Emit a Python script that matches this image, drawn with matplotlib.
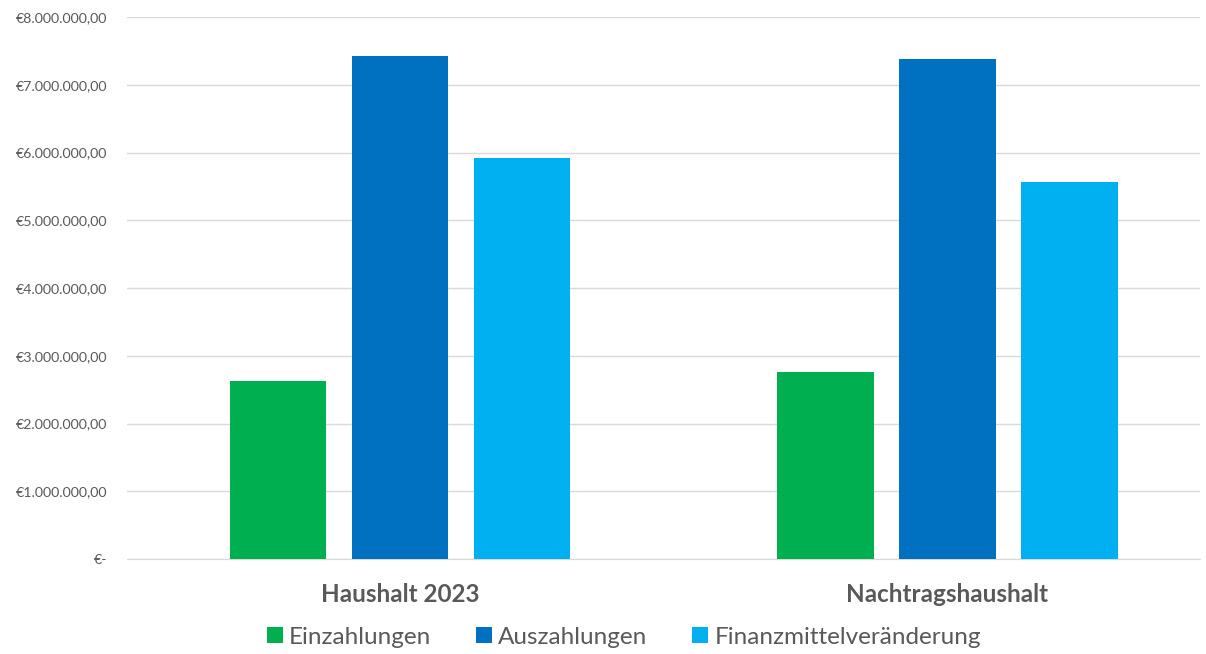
import matplotlib
matplotlib.use("Agg")
import matplotlib.pyplot as plt
import numpy as np
from matplotlib.ticker import FuncFormatter

gruppen = ["Haushalt 2023", "Nachtragshaushalt"]
serien = ["Einzahlungen", "Auszahlungen", "Finanzmittelveränderung"]
einzahlungen = [2630000, 2760000]
auszahlungen = [7420000, 7380000]
finanzmittel = [5920000, 5565000]
farben = ["#00b050", "#0070c0", "#00b0f0"]

plt.rcParams['font.family'] = ['Lato', 'DejaVu Sans']


def euro(v, pos):
    if v == 0:
        return "€-"
    s = f"{v:,.2f}"  # 8,000,000.00
    s = s.replace(",", "X").replace(".", ",").replace("X", ".")
    return "€" + s


fig = plt.figure(figsize=(12.06, 6.54), dpi=100)
ax = fig.add_axes([127 / 1206, 1 - 559 / 654, (1200 - 127) / 1206, (559 - 17) / 654])

x = np.arange(len(gruppen))
breite = 0.177
abstand = 0.223
for i, (werte, name) in enumerate(zip([einzahlungen, auszahlungen, finanzmittel], serien)):
    ax.bar(x + (i - 1) * abstand, werte, width=breite, color=farben[i], label=name, zorder=3)

ax.set_ylim(0, 8000000)
ax.set_xlim(-0.499, 1.462)
ax.set_yticks(np.arange(0, 8000001, 1000000))
ax.yaxis.set_major_formatter(FuncFormatter(euro))
ax.grid(axis="y", color="#d9d9d9", linewidth=1, zorder=0)
for s in ["top", "right", "left"]:
    ax.spines[s].set_visible(False)
ax.spines["bottom"].set_color("#d9d9d9")
ax.tick_params(axis="y", length=0, labelsize=10.2, labelcolor="#595959", pad=14)
ax.tick_params(axis="x", length=0, pad=17)
ax.set_xticks(x)
ax.set_xticklabels(gruppen, fontsize=17.5, fontweight="bold", color="#595959")

ax.legend(loc="center", bbox_to_anchor=(0.463, -0.144), ncol=3, frameon=False,
          fontsize=17.5, labelcolor="#595959", handlelength=0.66, handleheight=0.66,
          handletextpad=0.25, columnspacing=1.85, borderpad=0)

fig.savefig("out.png", dpi=100)
